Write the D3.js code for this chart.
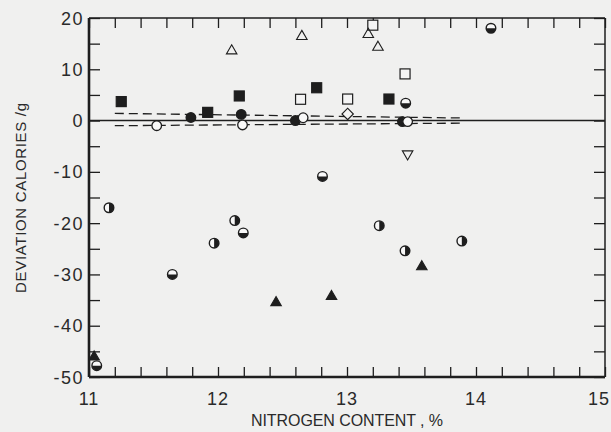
<!DOCTYPE html>
<html>
<head>
<meta charset="utf-8">
<script src="https://cdn.jsdelivr.net/npm/d3@7"></script>
<style>
  body { margin: 0; background: #f0f0ef; }
  svg { display: block; }
  text { font-family: "Liberation Sans", "DejaVu Sans", sans-serif; fill: #2a2a2a; }
</style>
</head>
<body>
<svg id="chart"></svg>
<script>
// points: [nitrogen %, deviation cal/g]
let filledSquares = [[11.25, 3.7], [11.92, 1.6], [12.165, 4.8], [12.765, 6.4], [13.325, 4.2]];
let openSquares = [[12.64, 4.15], [13.20, 18.6], [13.45, 9.1], [13.005, 4.2]];
let openTriangles = [[12.106, 13.6], [12.65, 16.4], [13.165, 16.8], [13.24, 14.3]];
let openTrianglesDown = [[13.47, -6.5]];
let openDiamonds = [[13.005, 1.3]];
let filledCircles = [[11.79, 0.6], [12.18, 1.2], [12.60, 0.0], [13.43, -0.2]];
let openCircles = [[11.525, -1.0], [12.19, -0.85], [12.66, 0.55], [13.47, -0.2]];
let bottomHalfCircles = [[12.81, -10.9], [12.196, -21.9], [11.646, -30.0], [13.455, 3.4], [14.116, 18.0], [11.06, -47.8]];
let rightHalfCircles = [[11.155, -17.0], [12.13, -19.5], [11.97, -23.9], [13.25, -20.5], [13.45, -25.4], [13.89, -23.5]];
let filledTriangles = [[12.45, -35.5], [12.88, -34.3], [13.58, -28.5], [11.04, -46.1]];

let upperBand = [[11.2, 1.4], [13.9, 0.5]];
let lowerBand = [[11.2, -1.0], [13.9, -0.5]];

let xTicks = [11, 12, 13, 14, 15];
let yTicks = [20, 10, 0, -10, -20, -30, -40, -50];

window.addEventListener('load', e => {
    let width = 611;
    let height = 432;
    let left = 89, right = 605, top = 18, bottom = 377;
    let ink = "#1e1e1e";

    let svg = d3.select("#chart")
                .attr("width", width)
                .attr("height", height);

    let xScale = d3.scaleLinear().domain([11, 15]).range([left, right]);
    let yScale = d3.scaleLinear().domain([-50, 20]).range([bottom, top]);

    let minorX = d3.range(11, 15.001, 0.2);
    let minorY = d3.range(-50, 20.001, 5);

    // ticks pointing inward on all four sides
    let axes = [
        d3.axisBottom(xScale).tickValues(minorX).tickSize(-10).tickFormat(""),
        d3.axisTop(xScale).tickValues(minorX).tickSize(-10).tickFormat(""),
        d3.axisLeft(yScale).tickValues(minorY).tickSize(-11).tickFormat(""),
        d3.axisRight(yScale).tickValues(minorY).tickSize(-11).tickFormat("")
    ];
    let shifts = ["translate(0," + bottom + ")", "translate(0," + top + ")",
                  "translate(" + left + ",0)", "translate(" + right + ",0)"];
    axes.forEach((ax, i) => {
        let g = svg.append("g").attr("transform", shifts[i]).call(ax);
        g.select(".domain").remove();
        g.selectAll("line").attr("stroke", ink).attr("stroke-width", 1.3);
    });

    // frame
    svg.append("line").attr("x1", left).attr("x2", right).attr("y1", top).attr("y2", top)
       .attr("stroke", ink).attr("stroke-width", 1.5);
    svg.append("line").attr("x1", right).attr("x2", right).attr("y1", top).attr("y2", bottom)
       .attr("stroke", ink).attr("stroke-width", 1.5);
    svg.append("line").attr("x1", left).attr("x2", right).attr("y1", bottom).attr("y2", bottom)
       .attr("stroke", ink).attr("stroke-width", 2.4);
    svg.append("line").attr("x1", left).attr("x2", left).attr("y1", top).attr("y2", bottom)
       .attr("stroke", ink).attr("stroke-width", 2.6);

    // zero line
    svg.append("line")
       .attr("x1", left).attr("x2", right)
       .attr("y1", yScale(0)).attr("y2", yScale(0))
       .attr("stroke", ink).attr("stroke-width", 1.4);

    let line = d3.line().x(d => xScale(d[0])).y(d => yScale(d[1]));
    [upperBand, lowerBand].forEach(b => {
        svg.append("path").attr("d", line(b))
           .attr("fill", "none").attr("stroke", ink)
           .attr("stroke-width", 1.3).attr("stroke-dasharray", "9,5");
    });

    // tick labels
    svg.selectAll(".xl").data(xTicks).enter().append("text")
       .attr("x", d => d === 15 ? width - 1 : xScale(d))
       .attr("y", bottom + 28)
       .attr("text-anchor", d => d === 15 ? "end" : "middle")
       .attr("font-size", 18).attr("letter-spacing", 1)
       .text(d => d);
    svg.selectAll(".yl").data(yTicks).enter().append("text")
       .attr("x", left - 5).attr("y", d => yScale(d) + 6.5)
       .attr("text-anchor", "end").attr("font-size", 18).attr("letter-spacing", 1.5)
       .text(d => d < 0 ? "-" + Math.abs(d) : d);

    svg.append("text")
       .attr("x", 347).attr("y", 426)
       .attr("text-anchor", "middle").attr("font-size", 16)
       .attr("textLength", 192).attr("lengthAdjust", "spacing")
       .text("NITROGEN CONTENT , %");

    svg.append("text")
       .attr("transform", "rotate(-90)")
       .attr("x", -198).attr("y", 26)
       .attr("text-anchor", "middle").attr("font-size", 15)
       .attr("textLength", 190).attr("lengthAdjust", "spacing")
       .text("DEVIATION  CALORIES /g");

    // markers
    let sq = 10;
    let drawSquares = (data, fill) => {
        svg.selectAll(null).data(data).enter().append("rect")
           .attr("x", d => xScale(d[0]) - sq / 2).attr("y", d => yScale(d[1]) - sq / 2)
           .attr("width", sq).attr("height", sq)
           .attr("fill", fill).attr("stroke", ink).attr("stroke-width", 1.2);
    };
    drawSquares(filledSquares, ink);
    drawSquares(openSquares, "#f4f4f4");

    let tri = d3.symbol().type(d3.symbolTriangle).size(48);
    let drawTris = (data, fill, rot) => {
        svg.selectAll(null).data(data).enter().append("path")
           .attr("d", tri)
           .attr("transform", d => "translate(" + xScale(d[0]) + "," + yScale(d[1]) + ") rotate(" + rot + ")")
           .attr("fill", fill).attr("stroke", ink).attr("stroke-width", 1.1);
    };
    drawTris(openTriangles, "none", 0);
    drawTris(openTrianglesDown, "none", 180);
    drawTris(filledTriangles, ink, 0);

    svg.selectAll(null).data(openDiamonds).enter().append("path")
       .attr("d", d3.symbol().type(d3.symbolSquare).size(64))
       .attr("transform", d => "translate(" + xScale(d[0]) + "," + yScale(d[1]) + ") rotate(45)")
       .attr("fill", "#f4f4f4").attr("stroke", ink).attr("stroke-width", 1.2);

    let r = 4.8;
    let drawCircles = (data, fill) => {
        svg.selectAll(null).data(data).enter().append("circle")
           .attr("cx", d => xScale(d[0])).attr("cy", d => yScale(d[1])).attr("r", r)
           .attr("fill", fill).attr("stroke", ink).attr("stroke-width", 1.3);
    };
    drawCircles(filledCircles, ink);
    drawCircles(openCircles, "#f8f8f8");

    let halfArc = (start) => d3.arc().innerRadius(0).outerRadius(r)
                               .startAngle(start).endAngle(start + Math.PI)();
    let drawHalves = (data, start) => {
        let g = svg.selectAll(null).data(data).enter().append("g")
                   .attr("transform", d => "translate(" + xScale(d[0]) + "," + yScale(d[1]) + ")");
        g.append("circle").attr("r", r).attr("fill", "#f8f8f8")
         .attr("stroke", ink).attr("stroke-width", 1.4);
        g.append("path").attr("d", halfArc(start)).attr("fill", ink);
    };
    drawHalves(bottomHalfCircles, Math.PI / 2);
    drawHalves(rightHalfCircles, 0);
});
</script>
</body>
</html>
